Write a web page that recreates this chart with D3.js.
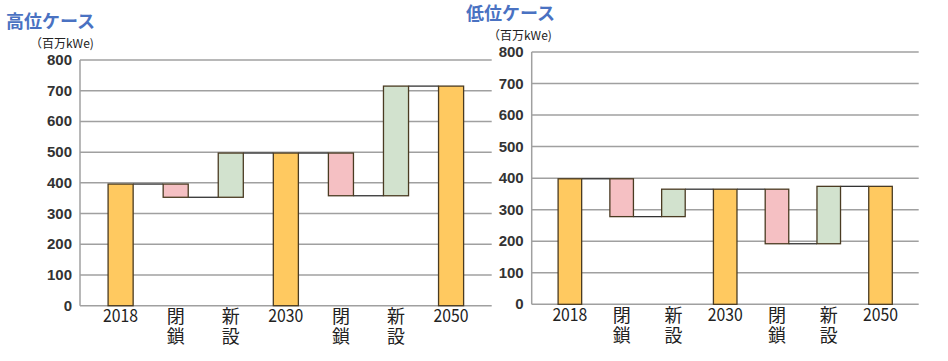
<!DOCTYPE html>
<html>
<head>
<meta charset="utf-8">
<script src="https://cdn.jsdelivr.net/npm/d3@7"></script>
<style>
  body { margin: 0; background: #fff; }
  svg { display: block; }
</style>
</head>
<body>
<svg id="canvas" width="948" height="361"></svg>
<script>
// category labels and step kinds
const categories = ['2018', '閉鎖', '新設', '2030', '閉鎖', '新設', '2050']
const kinds = ['total', 'close', 'new', 'total', 'close', 'new', 'total']

// 百万kWe: totals are absolute, close/new are changes
const highSteps = [396, -43, 144, 497, -139, 357, 715]
const lowSteps = [398, -120, 87, 365, -173, 182, 374]

const yTicks = [0, 100, 200, 300, 400, 500, 600, 700, 800]

const fills = { total: '#FFC960', close: '#F5C0C3', new: '#D2E2CE' }

const svg = d3.select('#canvas')

function drawPanel(opts) {
    const g = svg.append('g')
    const x = d3.scaleBand()
        .domain(d3.range(categories.length))
        .range([opts.left, opts.right])
        .paddingInner(0.545)
        .paddingOuter(0.51)
    const y = d3.scaleLinear().domain([0, 800]).range([opts.bottom, opts.top])

    // gridlines
    g.selectAll('line.grid')
        .data(yTicks)
        .enter()
        .append('line')
        .attr('x1', opts.left)
        .attr('x2', opts.right)
        .attr('y1', d => y(d))
        .attr('y2', d => y(d))
        .attr('stroke', '#a0a0a0')
        .attr('stroke-width', 1.5)

    g.append('line')
        .attr('x1', opts.left).attr('x2', opts.left)
        .attr('y1', y(0)).attr('y2', y(800))
        .attr('stroke', '#a0a0a0')
        .attr('stroke-width', 1.5)

    g.selectAll('text.ytick')
        .data(yTicks)
        .enter()
        .append('text')
        .attr('x', opts.left - 8)
        .attr('y', d => y(d) + 5)
        .attr('text-anchor', 'end')
        .attr('font-family', 'Liberation Sans, Arial, sans-serif')
        .attr('font-size', 15)
        .attr('font-weight', 'bold')
        .attr('fill', '#333')
        .text(d => d)

    // waterfall spans
    let level = 0
    const bars = opts.steps.map((v, i) => {
        let lo, hi
        if (kinds[i] === 'total') {
            lo = 0; hi = v; level = v
        } else {
            const next = level + v
            lo = Math.min(level, next); hi = Math.max(level, next)
            level = next
        }
        return { i, lo, hi, end: level, kind: kinds[i] }
    })

    // connectors from each bar's end level to the next bar
    g.selectAll('line.conn')
        .data(bars.slice(0, -1))
        .enter()
        .append('line')
        .attr('x1', d => x(d.i) + x.bandwidth())
        .attr('x2', d => x(d.i + 1))
        .attr('y1', d => y(d.end))
        .attr('y2', d => y(d.end))
        .attr('stroke', '#333')
        .attr('stroke-width', 1.3)

    g.selectAll('rect')
        .data(bars)
        .enter()
        .append('rect')
        .attr('x', d => x(d.i))
        .attr('width', x.bandwidth())
        .attr('y', d => y(d.hi))
        .attr('height', d => y(d.lo) - y(d.hi))
        .attr('fill', d => fills[d.kind])
        .attr('stroke', '#4a3b22')
        .attr('stroke-width', 1.3)

    // category labels: years horizontal, kanji pairs written vertically
    categories.forEach((s, i) => {
        const cx = x(i) + x.bandwidth() / 2
        const t = g.append('text')
            .attr('font-family', 'Noto Sans CJK JP, sans-serif')
            .attr('font-size', 18)
            .attr('fill', '#222')
            .text(s)
        if (/^\d+$/.test(s)) {
            t.attr('x', cx).attr('y', opts.labelY)
                .attr('text-anchor', 'middle')
                .attr('textLength', 35).attr('lengthAdjust', 'spacingAndGlyphs')
        } else {
            t.attr('x', cx).attr('y', opts.labelY - 15)
                .style('writing-mode', 'vertical-rl')
                .style('letter-spacing', '2px')
        }
    })

    svg.append('text')
        .attr('x', opts.titleX)
        .attr('y', opts.titleY)
        .attr('font-family', 'Noto Sans CJK JP, sans-serif')
        .attr('font-size', 18)
        .attr('font-weight', 'bold')
        .attr('fill', '#4a72c2')
        .text(opts.title)

    svg.append('text')
        .attr('x', opts.unitX)
        .attr('y', opts.unitY)
        .attr('font-family', 'Noto Sans CJK JP, sans-serif')
        .attr('font-size', 12)
        .attr('fill', '#222')
        .text('（百万kWe)')
}

drawPanel({
    steps: highSteps, title: '高位ケース',
    left: 80, right: 491.7, top: 60, bottom: 305.7,
    labelY: 322, titleX: 6, titleY: 28, unitX: 30, unitY: 47.5
})

drawPanel({
    steps: lowSteps, title: '低位ケース',
    left: 531.7, right: 918.7, top: 52, bottom: 304.3,
    labelY: 321, titleX: 466, titleY: 20, unitX: 488, unitY: 39.5
})
</script>
</body>
</html>
